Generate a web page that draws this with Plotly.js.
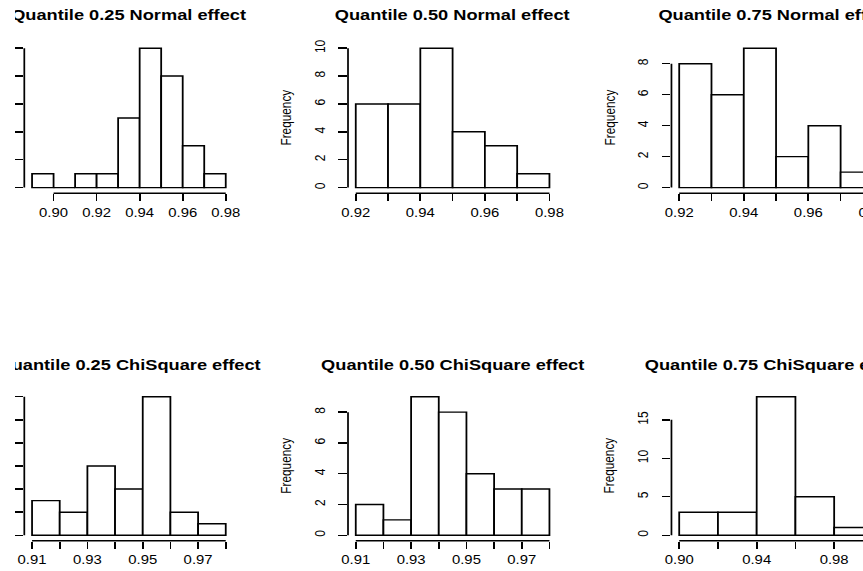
<!DOCTYPE html>
<html><head><meta charset="utf-8">
<script src="https://cdn.plot.ly/plotly-3.0.1.min.js"></script>
<style>
html,body{margin:0;padding:0;background:#fff;overflow:hidden;width:863px;height:571px}
#clip{position:absolute;left:15px;top:0;width:848px;height:571px;overflow:hidden;background:#fff}
#plot{position:absolute;left:-15px;top:0;width:740px;height:571px;transform:scaleX(1.24);transform-origin:0 0}
</style></head><body>
<div id="clip"><div id="plot"></div></div>
<script>
// ---- data ----
const titles = ["Quantile 0.25 Normal effect", "Quantile 0.50 Normal effect", "Quantile 0.75 Normal effect",
                "Quantile 0.25 ChiSquare effect", "Quantile 0.50 ChiSquare effect", "Quantile 0.75 ChiSquare effect"];
const yLabel = "Frequency";

const normal25Breaks = [0.89, 0.90, 0.91, 0.92, 0.93, 0.94, 0.95, 0.96, 0.97, 0.98];
const normal25Counts = [1, 0, 1, 1, 5, 10, 8, 3, 1];
const normal50Breaks = [0.92, 0.93, 0.94, 0.95, 0.96, 0.97, 0.98];
const normal50Counts = [6, 6, 10, 4, 3, 1];
const normal75Breaks = [0.92, 0.93, 0.94, 0.95, 0.96, 0.97, 0.98];
const normal75Counts = [8, 6, 9, 2, 4, 1];
const chi25Breaks = [0.91, 0.92, 0.93, 0.94, 0.95, 0.96, 0.97, 0.98];
const chi25Counts = [3, 2, 6, 4, 12, 2, 1];
const chi50Breaks = [0.91, 0.92, 0.93, 0.94, 0.95, 0.96, 0.97, 0.98];
const chi50Counts = [2, 1, 9, 8, 4, 3, 3];
const chi75Breaks = [0.90, 0.92, 0.94, 0.96, 0.98, 1.00];
const chi75Counts = [3, 3, 18, 5, 1];

const normal25XTicks = [0.90, 0.92, 0.94, 0.96, 0.98];
const normal25XLabels = ["0.90", "0.92", "0.94", "0.96", "0.98"];
const normal50XTicks = [0.92, 0.93, 0.94, 0.95, 0.96, 0.97, 0.98];
const normal50XLabels = ["0.92", "", "0.94", "", "0.96", "", "0.98"];
const normal75XTicks = [0.92, 0.93, 0.94, 0.95, 0.96, 0.97, 0.98];
const normal75XLabels = ["0.92", "", "0.94", "", "0.96", "", "0.98"];
const chi25XTicks = [0.91, 0.92, 0.93, 0.94, 0.95, 0.96, 0.97, 0.98];
const chi25XLabels = ["0.91", "", "0.93", "", "0.95", "", "0.97", ""];
const chi50XTicks = [0.91, 0.92, 0.93, 0.94, 0.95, 0.96, 0.97, 0.98];
const chi50XLabels = ["0.91", "", "0.93", "", "0.95", "", "0.97", ""];
const chi75XTicks = [0.90, 0.92, 0.94, 0.96, 0.98, 1.00];
const chi75XLabels = ["0.90", "", "0.94", "", "0.98", ""];

const normal25YTicks = [0, 2, 4, 6, 8, 10];
const normal50YTicks = [0, 2, 4, 6, 8, 10];
const normal75YTicks = [0, 2, 4, 6, 8];
const chi25YTicks = [0, 2, 4, 6, 8, 10, 12];
const chi50YTicks = [0, 2, 4, 6, 8];
const chi75YTicks = [0, 5, 10, 15];

const panels = [
  {title: titles[0], breaks: normal25Breaks, counts: normal25Counts, xTicks: normal25XTicks, xLabels: normal25XLabels, yTicks: normal25YTicks},
  {title: titles[1], breaks: normal50Breaks, counts: normal50Counts, xTicks: normal50XTicks, xLabels: normal50XLabels, yTicks: normal50YTicks},
  {title: titles[2], breaks: normal75Breaks, counts: normal75Counts, xTicks: normal75XTicks, xLabels: normal75XLabels, yTicks: normal75YTicks},
  {title: titles[3], breaks: chi25Breaks, counts: chi25Counts, xTicks: chi25XTicks, xLabels: chi25XLabels, yTicks: chi25YTicks},
  {title: titles[4], breaks: chi50Breaks, counts: chi50Counts, xTicks: chi50XTicks, xLabels: chi50XLabels, yTicks: chi50YTicks},
  {title: titles[5], breaks: chi75Breaks, counts: chi75Counts, xTicks: chi75XTicks, xLabels: chi75XLabels, yTicks: chi75YTicks}
];

// ---- layout geometry (unstretched px) ----
const W = 740, H = 571;
const colLeft = [19.6, 280.65, 541.5];
const colW = 168.7;
const rowTop = [42.6, 391.2];
const rowH = [150.6, 149.6];
const titleY = [15.5, 364.5];
const FONT = "Liberation Sans, Arial, Helvetica, sans-serif";

const data = [];
const layout = {
  width: W, height: H,
  margin: {l: 0, r: 0, t: 0, b: 0},
  paper_bgcolor: "#fff", plot_bgcolor: "#fff",
  showlegend: false,
  font: {family: FONT, color: "#000"},
  shapes: [], annotations: []
};

panels.forEach((p, i) => {
  const r = Math.floor(i / 3), c = i % 3;
  const n = i + 1;
  const xa = "xaxis" + (n === 1 ? "" : n), ya = "yaxis" + (n === 1 ? "" : n);
  const xr = "x" + (n === 1 ? "" : n), yr = "y" + (n === 1 ? "" : n);
  const xd = [colLeft[c] / W, (colLeft[c] + colW) / W];
  const yd = [1 - (rowTop[r] + rowH[r]) / H, 1 - rowTop[r] / H];
  // the left column's y labels fall outside the visible picture (cropped in the reference)
  const leftCut = (c === 0);

  const centers = p.counts.map((_, k) => (p.breaks[k] + p.breaks[k + 1]) / 2);
  const widths = p.counts.map((_, k) => p.breaks[k + 1] - p.breaks[k]);
  data.push({
    type: "bar", x: centers, y: p.counts, width: widths,
    xaxis: xr, yaxis: yr,
    marker: {color: "#fff", line: {color: "#000", width: 1.45}},
    hoverinfo: "skip"
  });

  const lo = p.breaks[0], hi = p.breaks[p.breaks.length - 1];
  const padX = 0.04 * (hi - lo);
  const yMax = Math.max(...p.counts);

  layout[xa] = {
    domain: xd, range: [lo - padX, hi + padX], anchor: yr,
    tickmode: "array", tickvals: p.xTicks, ticktext: p.xLabels,
    ticks: "outside", ticklen: 7, tickwidth: 1.4, tickcolor: "#000",
    showline: false, showgrid: false, zeroline: false,
    tickfont: {family: FONT, size: 12, color: "#000"},
    ticklabelstandoff: 1
  };
  layout[ya] = {
    domain: yd, range: [-0.04 * yMax, 1.04 * yMax], anchor: xr,
    tickmode: "array", tickvals: p.yTicks, ticktext: p.yTicks.map(String),
    tickangle: -90, showticklabels: !leftCut,
    ticks: "outside", ticklen: 7, tickwidth: 1.4, tickcolor: "#000",
    showline: false, showgrid: false, zeroline: false,
    tickfont: {family: FONT, size: 12, color: "#000"},
    ticklabelstandoff: 6
  };

  // R-style axis lines spanning first..last tick
  layout.shapes.push({type: "line", xref: xr, yref: "paper",
    x0: p.xTicks[0], x1: p.xTicks[p.xTicks.length - 1], y0: yd[0], y1: yd[0],
    line: {color: "#000", width: 1.4}});
  layout.shapes.push({type: "line", xref: "paper", yref: yr,
    x0: xd[0], x1: xd[0], y0: p.yTicks[0], y1: p.yTicks[p.yTicks.length - 1],
    line: {color: "#000", width: 1.4}});

  layout.annotations.push({
    text: p.title, xref: "paper", yref: "paper",
    x: (xd[0] + xd[1]) / 2, y: 1 - titleY[r] / H,
    xanchor: "center", yanchor: "middle", showarrow: false,
    font: {family: FONT, size: 14.7, weight: 700, color: "#000"}
  });
  if (!leftCut) {
    layout.annotations.push({
      text: yLabel, xref: "paper", yref: "paper",
      x: xd[0] - 50 / W, y: (yd[0] + yd[1]) / 2,
      xanchor: "center", yanchor: "middle", textangle: -90, showarrow: false,
      font: {family: FONT, size: 11.8, color: "#000"}
    });
  }
});

Plotly.newPlot("plot", data, layout, {staticPlot: true, displayModeBar: false});
</script></body></html>
